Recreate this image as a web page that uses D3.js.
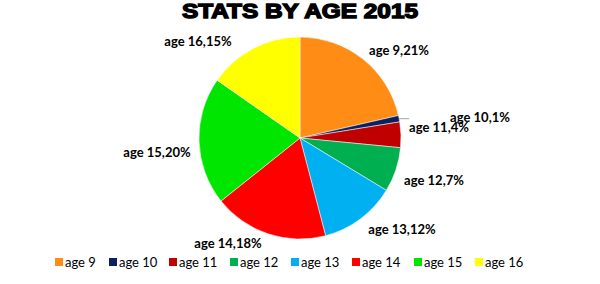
<!DOCTYPE html>
<html lang="en">
<head>
<meta charset="utf-8">
<title>Stats by age 2015</title>
<script src="https://d3js.org/d3.v7.min.js"></script>
<style>
  body { margin: 0; background: #fff; }
  .title { font: bold 20px "Liberation Sans", Arial, sans-serif; fill: #000; stroke: #000; stroke-width: 1.4px; }
  .lbl { font: bold 13px Lato, "Open Sans", sans-serif; fill: #000; }
  .legend text { font: 13px Lato, "Open Sans", sans-serif; fill: #000; }
</style>
</head>
<body>
<svg width="600" height="284"></svg>
<script>
  // data
  var categories = ["age 9", "age 10", "age 11", "age 12", "age 13", "age 14", "age 15", "age 16"];
  var values = [21, 1, 4, 7, 12, 18, 20, 15];
  var colors = ["#ff8c14", "#0a2060", "#c00000", "#00b050", "#00b0f0", "#ff0000", "#00e600", "#ffff00"];
  // where Excel put each data label (centre of text)
  var labelPos = [[399, 50], [480, 117], [439, 127], [434, 180], [402, 229], [228, 243], [157, 152], [198, 41]];

  var svg = d3.select("svg");
  var cx = 300, cy = 138, r = 101;

  svg.append("rect").attr("width", 600).attr("height", 284).attr("fill", "#fff");

  svg.append("text")
    .attr("class", "title")
    .attr("x", 182).attr("y", 18)
    .attr("textLength", 236)
    .attr("lengthAdjust", "spacingAndGlyphs")
    .text("STATS BY AGE 2015");

  var color = d3.scaleOrdinal().domain(categories).range(colors);
  var data = categories.map(function(c, i) { return {name: c, value: values[i], i: i}; });

  var pie = d3.pie().sort(null).value(function(d) { return d.value; });
  var arc = d3.arc().innerRadius(0).outerRadius(r);

  var g = svg.append("g").attr("transform", "translate(" + cx + "," + cy + ")");
  var arcs = pie(data);

  g.selectAll("path")
    .data(arcs)
    .enter().append("path")
    .attr("d", arc)
    .attr("fill", function(d) { return color(d.data.name); })
    .attr("stroke", "#fff")
    .attr("stroke-width", 0.5);

  // leader line for the tiny age 10 slice
  var a10 = arcs[1];
  var mid = (a10.startAngle + a10.endAngle) / 2;
  var px = Math.sin(mid) * r, py = -Math.cos(mid) * r;
  svg.append("line")
    .attr("x1", cx + px).attr("y1", cy + py)
    .attr("x2", cx + px + 10).attr("y2", cy + py)
    .attr("stroke", "#a6a6a6").attr("stroke-width", 1);

  svg.selectAll("text.lbl")
    .data(data)
    .enter().append("text")
    .attr("class", "lbl")
    .attr("x", function(d) { return labelPos[d.i][0]; })
    .attr("y", function(d) { return labelPos[d.i][1]; })
    .attr("dy", "0.35em")
    .attr("text-anchor", "middle")
    .text(function(d) { return d.name + "," + d.value + "%"; });

  // legend
  var legendX = [55, 109, 169, 230, 291, 352, 414, 475];
  var lg = svg.append("g").attr("class", "legend")
    .selectAll("g")
    .data(data)
    .enter().append("g")
    .attr("transform", function(d) { return "translate(" + legendX[d.i] + ",262)"; });
  lg.append("rect")
    .attr("x", 0).attr("y", -4)
    .attr("width", 8).attr("height", 8)
    .attr("fill", function(d) { return color(d.name); });
  lg.append("text")
    .attr("x", 10).attr("y", 0)
    .attr("dy", "0.35em")
    .text(function(d) { return d.name; });
</script>
</body>
</html>
